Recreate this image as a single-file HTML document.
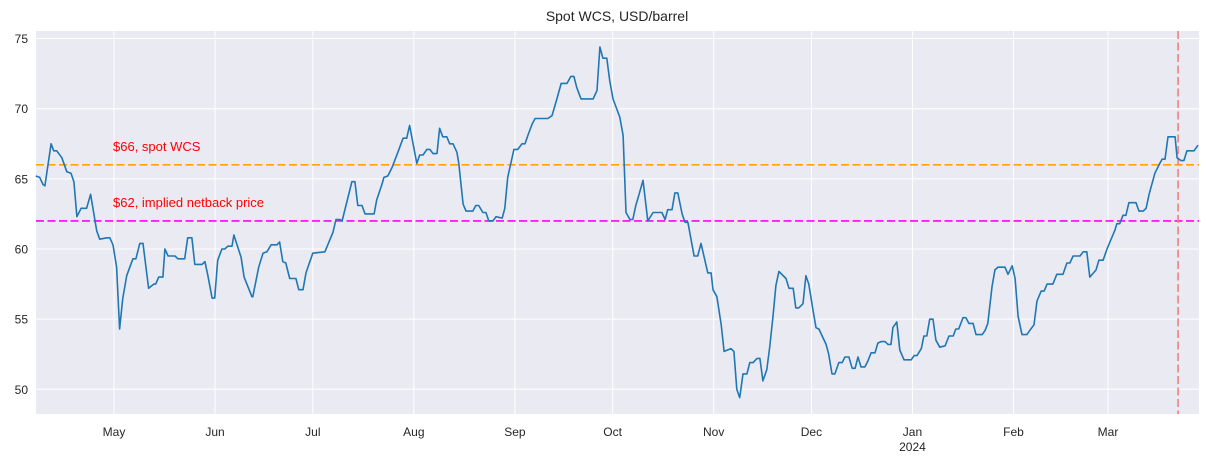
<!DOCTYPE html>
<html><head><meta charset="utf-8"><style>
body{margin:0;background:#fff;}
svg{display:block;font-family:"Liberation Sans",Arial,sans-serif;}
</style></head><body>
<svg id="chart" width="1207" height="465" viewBox="0 0 1207 465" xmlns="http://www.w3.org/2000/svg">
<rect x="36" y="31" width="1163" height="383" fill="#eaeaf2"/>
<g id="grid"></g>
<g id="refs"></g>
<g id="series"></g>
<g id="ticks"></g>
<text x="617" y="21" text-anchor="middle" font-size="14" fill="#262626">Spot WCS, USD/barrel</text>
<text x="113" y="151" font-size="13" fill="red">$66, spot WCS</text>
<text x="113" y="207" font-size="13" fill="red">$62, implied netback price</text>
</svg>
<script>
// days since 2023-04-07
const days = [0,1.2,2.2,2.8,4.7,5.6,6.5,8.1,9.6,10.9,11.8,12.7,14,15.8,17,18.9,19.8,22,22.9,23.9,25.1,26,27,28.2,30.1,31,32.2,33.2,35,36.6,37.2,38.1,39.4,40,41,43.1,44,46.2,47.1,48.4,49.3,51.5,52.4,53.3,54.6,55.5,56.4,57.7,58.6,59.5,60.8,61.4,63.6,64.5,67,67.3,69.1,70.4,71.6,72.9,74.7,75.6,76.6,77.5,78.7,80.6,81.5,82.8,83.7,84.6,85.9,89.6,
92.1,93,94.2,94.9,96.7,98,98.9,99.8,101.1,102,104.8,105.7,107.3,107.9,109.1,110.4,112.2,113.8,115,115.9,118.1,119,120,121.2,122.1,123.1,124.3,125.2,126.2,127.4,128.3,129.3,130.5,131.1,132.4,133.3,135.5,136.4,137.3,138.6,139.5,140.4,141.7,142.6,144.5,145.4,146.3,148.2,149.4,150.7,151.6,152.5,153.8,154.7,158.7,160,161.5,162.8,164.6,165.9,166.8,167.7,169,172.7,173.9,174.8,175.8,177,177.9,178.9,181,182,182.9,184.1,185.1,
186,186.9,188.2,189.7,191.3,194,195,195.9,197.2,198.1,199,200.3,201.2,202.1,204,205.2,206.2,208.3,209.3,209.9,211.1,212.4,213.3,215.5,216.4,217.3,218.2,219.2,220.4,221.3,222.3,223.5,224.4,225.4,226.6,227.5,228.5,229.4,230.3,232.5,233.4,234.7,235.6,236.5,237.8,238.7,239.6,240.9,241.8,242.7,244.9,245.8,246.8,247.7,248.9,249.9,250.8,252,253,253.9,254.8,255.8,257,257.9,258.9,260.1,261,262,263.2,264.1,265.1,265.7,266.9,267.8,269.1,271.3,272.2,273.1,274.4,275.3,276.2,277.1,278.1,279,280.2,281.8,283,284.3,285.2,286.1,287.4,288.3,289.2,290.5,291.4,293.3,294.2,295.1,296.4,297.3,298.2,300.4,301.3,302.6,303.5,304.4,305.7,307.2,308.1,309.4,310.3,311.6,312.5,313.4,315.3,316.5,318.4,319.6,320.5,321.5,323.6,324.6,325.8,326.7,328.6,329.5,330.8,332,334.5,335.1,336,337,337.9,338.8,341,341.9,343.2,344.1,345,346.9,348.4,349.1,350,350.9,353.1,353.7,354.9,355.9,356.8,359,360.2].map(d => +(d*0.99).toFixed(1));
const prices = [65.2,65.1,64.6,64.5,67.5,67.0,67.0,66.5,65.5,65.4,64.8,62.3,62.9,62.9,63.9,61.3,60.7,60.8,60.8,60.3,58.7,54.3,56.5,58.1,59.3,59.3,60.4,60.4,57.2,57.5,57.5,58.0,58.0,60.0,59.5,59.5,59.3,59.3,60.8,60.8,58.9,58.9,59.1,58.1,56.5,56.5,59.2,60.0,60.0,60.2,60.2,61.0,59.4,58.0,56.6,56.6,58.7,59.7,59.8,60.3,60.3,60.5,59.1,59.0,57.9,57.9,57.1,57.1,58.3,58.9,59.7,59.8,
61.2,62.1,62.1,62.0,63.6,64.8,64.8,63.1,63.1,62.5,62.5,63.5,64.6,65.1,65.2,65.8,66.9,67.9,67.9,68.8,66.1,66.7,66.7,67.1,67.1,66.8,66.8,68.6,68.0,68.0,67.5,67.5,66.9,66.1,63.2,62.7,62.7,63.1,63.1,62.6,62.6,62.0,62.0,62.3,62.2,62.9,65.1,67.1,67.1,67.5,67.5,68.1,68.9,69.3,69.3,69.5,70.7,71.8,71.8,72.3,72.3,71.5,70.7,70.7,71.3,74.4,73.6,73.6,72.0,70.7,69.4,68.1,62.6,62.1,62.1,
63.1,63.8,64.9,62.0,62.6,62.6,62.1,62.8,62.8,64.0,64.0,62.5,61.9,61.9,59.5,59.5,60.4,58.3,58.3,57.1,56.6,54.6,52.7,52.9,52.7,50.0,49.4,51.1,51.1,51.9,51.9,52.2,52.2,50.6,51.4,53.0,55.2,57.4,58.4,57.9,57.2,57.2,55.8,55.8,56.1,58.1,57.5,55.6,54.4,54.3,53.2,52.5,51.1,51.1,51.9,51.9,52.3,52.3,51.5,51.5,52.3,51.6,51.6,52.0,52.6,52.6,53.3,53.4,53.4,53.2,53.2,54.4,54.8,52.8,52.1,52.1,52.4,52.4,52.9,53.8,53.8,55.0,55.0,53.5,53.0,53.1,53.8,53.8,54.3,54.3,55.1,55.1,54.7,54.7,53.9,53.9,54.2,54.7,57.3,58.5,58.7,58.7,58.2,58.8,57.9,55.2,53.9,53.9,54.2,54.6,56.3,57.0,57.0,57.5,57.5,58.2,58.2,59.0,59.0,59.5,59.5,59.8,59.8,58.0,58.5,59.2,59.2,60.0,61.4,61.8,61.8,62.4,62.4,63.3,63.3,62.7,62.7,62.9,63.9,65.4,66.1,66.4,66.4,68.0,68.0,66.5,66.3,66.3,67.0,67.0,67.4];
const yTicks = [50,55,60,65,70,75];
const monthLabels = ["May","Jun","Jul","Aug","Sep","Oct","Nov","Dec","Jan","Feb","Mar"];
const monthDays = [24,55,85,116,147,177,208,238,269,300,329];
const refLevels = [66,62];
const refColors = ["#ffa500","#ff00ff"];
const markerDay = 350.5;

const NS="http://www.w3.org/2000/svg";
const xS = d => 35.8 + d*3.259;
const yS = v => 389.3 - (v-50)*14.03;
function mk(tag, attrs, parent){const e=document.createElementNS(NS,tag);for(const k in attrs)e.setAttribute(k,attrs[k]);parent.appendChild(e);return e;}
const grid=document.getElementById('grid'), ticks=document.getElementById('ticks'), refs=document.getElementById('refs'), series=document.getElementById('series');
yTicks.forEach(v=>{
  const l=mk('line',{x1:36,x2:1199,y1:yS(v),y2:yS(v),stroke:'#fff','stroke-width':1},grid);
  
  
  const t=mk('text',{x:28,y:yS(v)+4.5,'text-anchor':'end','font-size':12,fill:'#262626'},ticks);
  t.textContent=v;
  
  
});
monthDays.forEach((d,i)=>{
  const l=mk('line',{x1:xS(d),x2:xS(d),y1:31,y2:414,stroke:'#fff','stroke-width':1},grid);
  
  
  const t=mk('text',{x:xS(d),y:436,'text-anchor':'middle','font-size':12,fill:'#262626'},ticks);
  t.textContent=monthLabels[i];
  
  
  if(monthLabels[i]==="Jan"){
    const y=mk('text',{x:xS(d),y:451,'text-anchor':'middle','font-size':12,fill:'#262626'},ticks);
    y.textContent="2024";
    
    
  }
});
refLevels.forEach((v,i)=>{
  const l=mk('line',{x1:36,x2:1199,y1:yS(v),y2:yS(v),stroke:refColors[i],'stroke-width':1.6,'stroke-dasharray':'8,3.5'},refs);
  
  
});
const pts=days.map((d,i)=>xS(d).toFixed(1)+','+yS(prices[i]).toFixed(1)).join(' ');
const pl=mk('polyline',{points:pts,fill:'none',stroke:'#1f77b4','stroke-width':1.6,'stroke-linejoin':'round'},series);


const vl=mk('line',{x1:xS(markerDay),x2:xS(markerDay),y1:31,y2:414,stroke:'#f08080','stroke-width':1.6,'stroke-dasharray':'8,3.5'},refs);


</script>
</body></html>
